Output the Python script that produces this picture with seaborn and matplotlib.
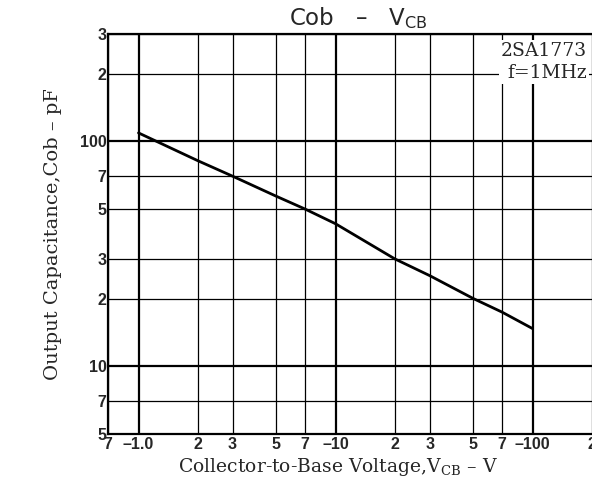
import numpy as np
import pandas as pd
import seaborn as sns
import matplotlib.pyplot as plt
from matplotlib.ticker import FixedLocator, FixedFormatter, NullFormatter

# data
vcb = [1, 2, 3, 5, 7, 10, 20, 30, 50, 70, 100]
cob = [109, 82, 70, 57, 50, 43, 30, 25.3, 20, 17.4, 14.7]

x_major = [1, 10, 100]
x_minor = [0.7, 2, 3, 5, 7, 20, 30, 50, 70, 200]
x_ticks = [0.7, 1, 2, 3, 5, 7, 10, 20, 30, 50, 70, 100, 200]
x_labels = ['7', '\u20131.0', '2', '3', '5', '7', '\u201310', '2', '3', '5', '7', '\u2013100', '2']

y_major = [10, 100]
y_minor = [5, 7, 20, 30, 50, 70, 200, 300]
y_ticks = [5, 7, 10, 20, 30, 50, 70, 100, 200, 300]
y_labels = ['5', '7', '10', '2', '3', '5', '7', '100', '2', '3']

sns.set_style("white")
plt.rcParams['font.family'] = ['DejaVu Serif']
plt.rcParams['mathtext.fontset'] = 'custom'
plt.rcParams['mathtext.rm'] = 'DejaVu Serif'
plt.rcParams['mathtext.sf'] = 'DejaVu Sans'

df = pd.DataFrame({'V': vcb, 'C': cob})

fig = plt.figure(figsize=(5.92, 4.92), dpi=100)
ax = fig.add_axes([0.1824, 0.1179, 0.8176, 0.813])
ax.set_xscale('log')
ax.set_yscale('log')
sns.lineplot(data=df, x='V', y='C', ax=ax, color='black', lw=2.0, zorder=5)
ax.set_xlim(0.7, 200)
ax.set_ylim(5, 300)

# grid: decades heavier
for v in x_major:
    ax.axvline(v, color='black', lw=1.6, zorder=1)
for v in x_minor:
    ax.axvline(v, color='black', lw=0.9, zorder=1)
for v in y_major:
    ax.axhline(v, color='black', lw=1.6, zorder=1)
for v in y_minor:
    ax.axhline(v, color='black', lw=0.9, zorder=1)

ax.xaxis.set_major_locator(FixedLocator(x_ticks))
ax.xaxis.set_major_formatter(FixedFormatter(x_labels))
ax.xaxis.set_minor_formatter(NullFormatter())
ax.yaxis.set_major_locator(FixedLocator(y_ticks))
ax.yaxis.set_major_formatter(FixedFormatter(y_labels))
ax.yaxis.set_minor_formatter(NullFormatter())
ax.tick_params(which='both', length=0)
ax.tick_params(axis='x', pad=2)
ax.tick_params(axis='y', pad=1)
for t in ax.get_xticklabels() + ax.get_yticklabels():
    t.set_fontfamily(['Liberation Sans Narrow', 'Liberation Sans', 'DejaVu Sans'])
    t.set_fontweight('bold')
    t.set_fontsize(11.5)

for s in ['left', 'bottom', 'top']:
    ax.spines[s].set_color('black')
    ax.spines[s].set_linewidth(1.6)
ax.spines['right'].set_visible(False)

ax.set_xlabel('Collector-to-Base Voltage,V$_{\\rm CB}$ \u2013 V', fontsize=13.5)
ax.xaxis.set_label_coords(0.475, -0.055)
ax.set_ylabel('Output Capacitance,Cob \u2013 pF', fontsize=14, labelpad=13)
fig.text(0.605, 0.964, 'Cob   \u2013   V$_{\\mathsf{CB}}$', fontsize=16.5,
         family=['DejaVu Sans'], ha='center', va='center')
ax.text(0.99, 0.98, '2SA1773\nf=1MHz', transform=ax.transAxes, ha='right', va='top',
        fontsize=13.5, linespacing=1.3, zorder=6,
        bbox=dict(facecolor='white', edgecolor='none', pad=1.5))

fig.savefig('out.png', dpi=100)
